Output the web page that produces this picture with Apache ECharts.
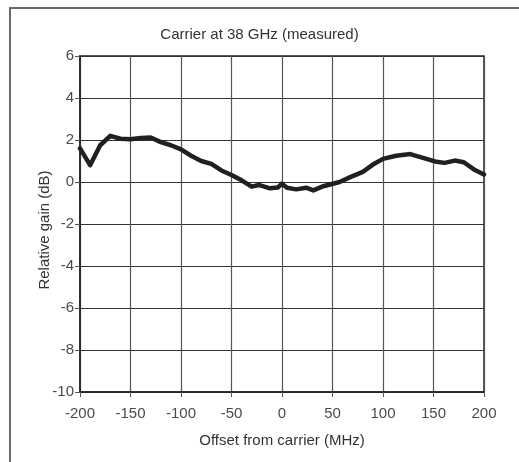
<!DOCTYPE html>
<html>
<head>
<meta charset="utf-8">
<script src="https://cdn.jsdelivr.net/npm/echarts@6/dist/echarts.min.js"></script>
<style>
html,body{margin:0;padding:0;background:#fff;}
#chart{width:519px;height:462px;position:absolute;left:0;top:0;}
#frame{position:absolute;left:9px;top:7px;width:520px;height:470px;border-top:2px solid #6a6a6a;border-left:2px solid #6a6a6a;pointer-events:none;}
</style>
</head>
<body>
<div id="chart"></div>
<div id="frame"></div>
<script>
const titleText = 'Carrier at 38 GHz (measured)';
const xAxisName = 'Offset from carrier (MHz)';
const yAxisName = 'Relative gain (dB)';
const offsets = [-200, -190, -180, -170, -160, -150, -140, -130, -120, -110, -100, -90, -80, -70, -60, -50, -40, -30, -23, -12, -4, 0, 5, 14, 24, 31, 41, 57, 67, 80, 90, 100, 113, 127, 143, 153, 161, 171, 180, 190, 200];
const gains = [1.6, 0.8, 1.75, 2.2, 2.06, 2.04, 2.1, 2.12, 1.9, 1.75, 1.55, 1.25, 1.0, 0.86, 0.55, 0.33, 0.08, -0.22, -0.14, -0.3, -0.26, -0.08, -0.27, -0.35, -0.27, -0.4, -0.2, 0.0, 0.22, 0.48, 0.83, 1.1, 1.25, 1.33, 1.1, 0.96, 0.91, 1.02, 0.94, 0.6, 0.36];

const font = '"Liberation Sans", Arial, sans-serif';
const chart = echarts.init(document.getElementById('chart'), null, {renderer: 'canvas'});
chart.setOption({
  animation: false,
  backgroundColor: 'transparent',
  title: {
    text: titleText, left: 'center', top: 22,
    textStyle: {fontFamily: font, fontSize: 15, fontWeight: 'normal', color: '#333'}
  },
  grid: {left: 80, right: 35, top: 56, bottom: 70, show: true, borderColor: '#222', borderWidth: 1.5},
  xAxis: {
    type: 'value', min: -200, max: 200, interval: 50,
    name: xAxisName, nameLocation: 'middle', nameGap: 41, nameMoveOverlap: false,
    nameTextStyle: {fontFamily: font, fontSize: 15, color: '#333'},
    axisLine: {show: true, onZero: false, lineStyle: {color: '#222', width: 1.5}},
    axisTick: {show: true, inside: false, length: 5, lineStyle: {color: '#555', width: 1}},
    axisLabel: {fontFamily: font, fontSize: 15, color: '#4a4a4a', margin: 14},
    splitLine: {show: true, lineStyle: {color: '#555', width: 1.2}}
  },
  yAxis: {
    type: 'value', min: -10, max: 6, interval: 2,
    name: yAxisName, nameLocation: 'middle', nameGap: 28, nameMoveOverlap: false,
    nameTextStyle: {fontFamily: font, fontSize: 15, color: '#333', padding: [0, 12, 0, 0]},
    axisLine: {show: true, onZero: false, lineStyle: {color: '#222', width: 1.5}},
    axisTick: {show: true, inside: false, length: 5, lineStyle: {color: '#555', width: 1}},
    axisLabel: {fontFamily: font, fontSize: 15, color: '#4a4a4a', margin: 6},
    splitLine: {show: true, lineStyle: {color: '#333', width: 1.2}}
  },
  series: [{
    type: 'line',
    data: offsets.map((x, i) => [x, gains[i]]),
    symbol: 'none',
    lineStyle: {color: '#231f20', width: 4.5, join: 'round', cap: 'round'}
  }]
});
</script>
</body>
</html>
